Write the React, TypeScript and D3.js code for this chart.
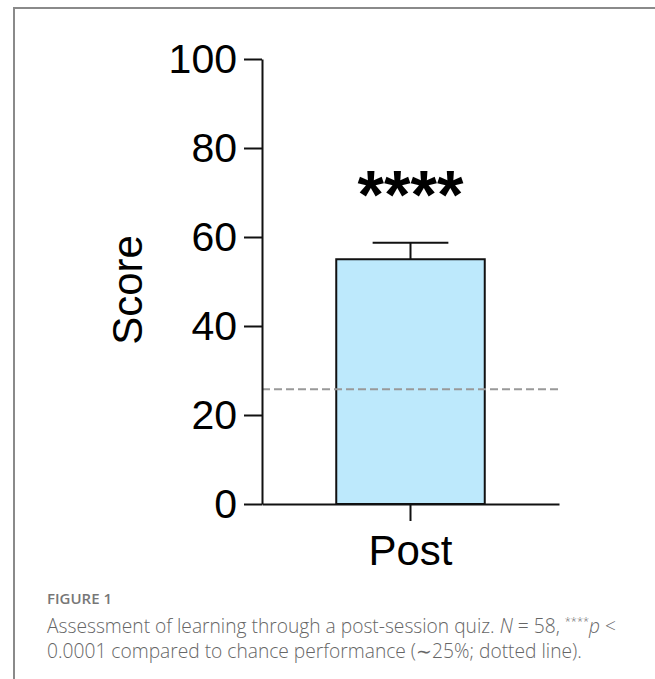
import React, { useEffect, useRef } from "react";
import * as d3 from "d3";

const categories = ["Post"];
const means = [55.0];
const errors = [3.7];
const yTicks = [0, 20, 40, 60, 80, 100];
const chanceLevel = 25.8;
const significance = ["****"];

const App = () => {
  const svgRef = useRef<SVGSVGElement>(null);

  useEffect(() => {
    const width = 655,
      height = 679;
    const svg = d3.select(svgRef.current).attr("width", width).attr("height", height);
    svg.selectAll("*").remove();

    const font = "'Liberation Sans', Arial, sans-serif";

    // page frame (left + top rule)
    svg.append("line").attr("x1", 14).attr("x2", 14).attr("y1", 7).attr("y2", height)
      .attr("stroke", "#8a8a8a").attr("stroke-width", 2);
    svg.append("line").attr("x1", 13).attr("x2", width).attr("y1", 8).attr("y2", 8)
      .attr("stroke", "#8a8a8a").attr("stroke-width", 2);

    const x = d3.scaleBand().domain(categories).range([262, 559])
      .paddingInner(0.5).paddingOuter(0.25);
    const y = d3.scaleLinear().domain([0, 100]).range([504, 59]);

    // bars
    svg.selectAll(".bar").data(categories).enter().append("rect")
      .attr("class", "bar")
      .attr("x", (d) => x(d)!)
      .attr("y", (d, i) => y(means[i]))
      .attr("width", x.bandwidth())
      .attr("height", (d, i) => y(0) - y(means[i]))
      .attr("fill", "#bde9fc")
      .attr("stroke", "#111")
      .attr("stroke-width", 2);

    // error bars + significance
    categories.forEach((c, i) => {
      const cx = x(c)! + x.bandwidth() / 2;
      const capW = x.bandwidth() * 0.51;
      svg.append("line").attr("x1", cx).attr("x2", cx)
        .attr("y1", y(means[i])).attr("y2", y(means[i] + errors[i]))
        .attr("stroke", "#111").attr("stroke-width", 2);
      svg.append("line").attr("x1", cx - capW / 2).attr("x2", cx + capW / 2)
        .attr("y1", y(means[i] + errors[i])).attr("y2", y(means[i] + errors[i]))
        .attr("stroke", "#111").attr("stroke-width", 2);
      svg.append("text").attr("x", cx).attr("y", y(means[i] + errors[i]) - 25)
        .attr("text-anchor", "middle")
        .attr("font-family", font).attr("font-weight", "bold").attr("font-size", 68)
        .text(significance[i]);
    });

    // chance line
    svg.append("line").attr("x1", 262).attr("x2", 559)
      .attr("y1", y(chanceLevel)).attr("y2", y(chanceLevel))
      .attr("stroke", "#999").attr("stroke-width", 2).attr("stroke-dasharray", "8,4");

    // axes
    const yAxis = svg.append("g").attr("transform", "translate(262,0)")
      .call(d3.axisLeft(y).tickValues(yTicks).tickSize(18).tickSizeOuter(0).tickPadding(7));
    const xAxis = svg.append("g").attr("transform", `translate(0,${y(0)})`)
      .call(d3.axisBottom(x).tickSize(17).tickSizeOuter(0).tickPadding(14));
    [yAxis, xAxis].forEach((g) => {
      g.select(".domain").attr("stroke", "#111").attr("stroke-width", 2);
      g.selectAll(".tick line").attr("stroke", "#111").attr("stroke-width", 2);
      g.selectAll(".tick text").attr("fill", "#000").attr("font-family", font);
    });
    yAxis.selectAll(".tick text").attr("font-size", 41);
    xAxis.selectAll(".tick text").attr("font-size", 42);

    svg.append("text").attr("transform", "translate(142,290) rotate(-90)")
      .attr("text-anchor", "middle").attr("font-family", font).attr("font-size", 42)
      .text("Score");

    // caption
    const capFont = "'Open Sans', sans-serif";
    svg.append("text").attr("x", 47).attr("y", 604)
      .attr("font-family", capFont).attr("font-weight", 600).attr("font-size", 15)
      .attr("fill", "#777").text("FIGURE 1");

    const l1 = svg.append("text").attr("x", 47).attr("y", 633)
      .attr("font-family", capFont).attr("font-weight", 300).attr("font-size", 19.2)
      .attr("fill", "#666");
    l1.append("tspan").text("Assessment of learning through a post-session quiz. ");
    l1.append("tspan").attr("font-style", "italic").text("N");
    l1.append("tspan").text(" = 58, ");
    l1.append("tspan").attr("font-size", 11).attr("dy", -8).text("****");
    l1.append("tspan").attr("font-style", "italic").attr("dy", 8).text("p");
    l1.append("tspan").text(" <");

    svg.append("text").attr("x", 47).attr("y", 658)
      .attr("font-family", capFont).attr("font-weight", 300).attr("font-size", 19.2)
      .attr("fill", "#666")
      .text("0.0001 compared to chance performance (\u223c25%; dotted line).");
  }, []);

  return (
    <svg ref={svgRef} style={{ position: "absolute", left: 0, top: 0, background: "#fff" }}></svg>
  );
};

export default App;
